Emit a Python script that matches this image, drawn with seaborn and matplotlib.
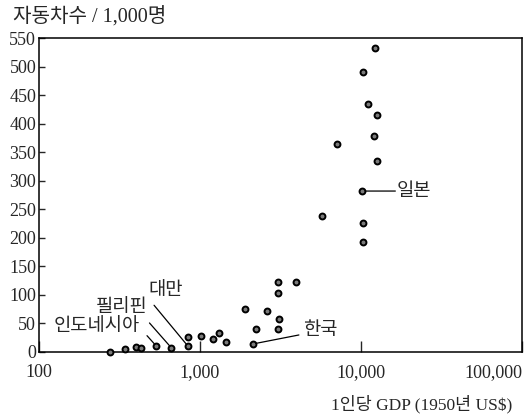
import pandas as pd
import seaborn as sns
from matplotlib import pyplot as plt

# 1인당 GDP (1950년 US$) vs 자동차수 / 1,000명
gdp = [12250, 10280, 11100, 12500, 11970, 7110, 12560, 10190, 5690, 10280, 10280,
       3040, 3920, 3040, 1900, 2600, 3080, 2230, 3040, 2130,
       278, 341, 403, 432, 533, 665, 843, 843, 1014, 1200, 1320, 1460]
cars = [533, 490, 434, 416, 379, 364, 334, 282, 239, 226, 193,
        122, 123, 104, 76, 71, 57, 40, 40, 14,
        0, 6, 8, 7, 11, 7, 10, 26, 28, 22, 33, 18]

# labelled countries: name, index into the arrays
labels = ['인도네시아', '필리핀', '대만', '한국', '일본']
label_idx = [24, 25, 26, 19, 7]

y_ticks = list(range(0, 551, 50))
x_ticks = [100, 1000, 10000, 100000]
x_tick_labels = ['100', '1,000', '10,000', '100,000']

data = pd.DataFrame({'gdp': gdp, 'cars': cars})

sns.set_style('ticks')
plt.rcParams['font.family'] = ['Liberation Serif', 'Noto Sans CJK KR']

fig = plt.figure(figsize=(5.32, 4.19), dpi=100)
ax = fig.add_axes([0.0733, 0.160, 0.908, 0.749])

sns.scatterplot(x='gdp', y='cars', data=data, ax=ax, marker='o', s=18,
                color='#7a7a7a', edgecolor='black', linewidth=1.4,
                clip_on=False, zorder=3)

ax.set_xscale('log')
ax.set_xlim(100, 100000)
ax.set_ylim(0, 550)
ax.set_xticks(x_ticks)
ax.set_xticklabels(x_tick_labels)
ax.minorticks_off()
ax.set_yticks(y_ticks)
ax.tick_params(axis='y', direction='in', length=4, width=1, labelsize=13, pad=2)
ax.tick_params(axis='x', direction='in', length=8, width=1, labelsize=13, pad=9)
ax.get_xticklabels()[-1].set_ha('right')
for s in ax.spines.values():
    s.set_linewidth(1.1)
    s.set_color('black')
    s.set_visible(True)

ax.set_xlabel('')
ax.set_ylabel('')
fig.text(0.025, 0.958, '자동차수 / 1,000명', fontsize=14.5, ha='left', va='center')
fig.text(0.962, 0.036, '1인당 GDP (1950년 US$)', fontsize=12.5, ha='right', va='center')

# leader lines: (line start offset, text offset) in pixels
line_off = [(-9, 10), (-22, 25), (-34, 41), (46, 9), (33, 0)]
text_off = [(-59, 19), (-50, 40), (-22, 56), (67, 13), (52, 0)]
for name, i, lo, to in zip(labels, label_idx, line_off, text_off):
    pt = (gdp[i], cars[i])
    ax.annotate('', xy=pt, xytext=lo, textcoords='offset pixels',
                arrowprops=dict(arrowstyle='-', lw=0.9, color='black',
                                shrinkA=0, shrinkB=2))
    ax.annotate(name, xy=pt, xytext=to, textcoords='offset pixels',
                ha='center', va='center', fontsize=13.5)

fig.savefig('out.png', dpi=100)
